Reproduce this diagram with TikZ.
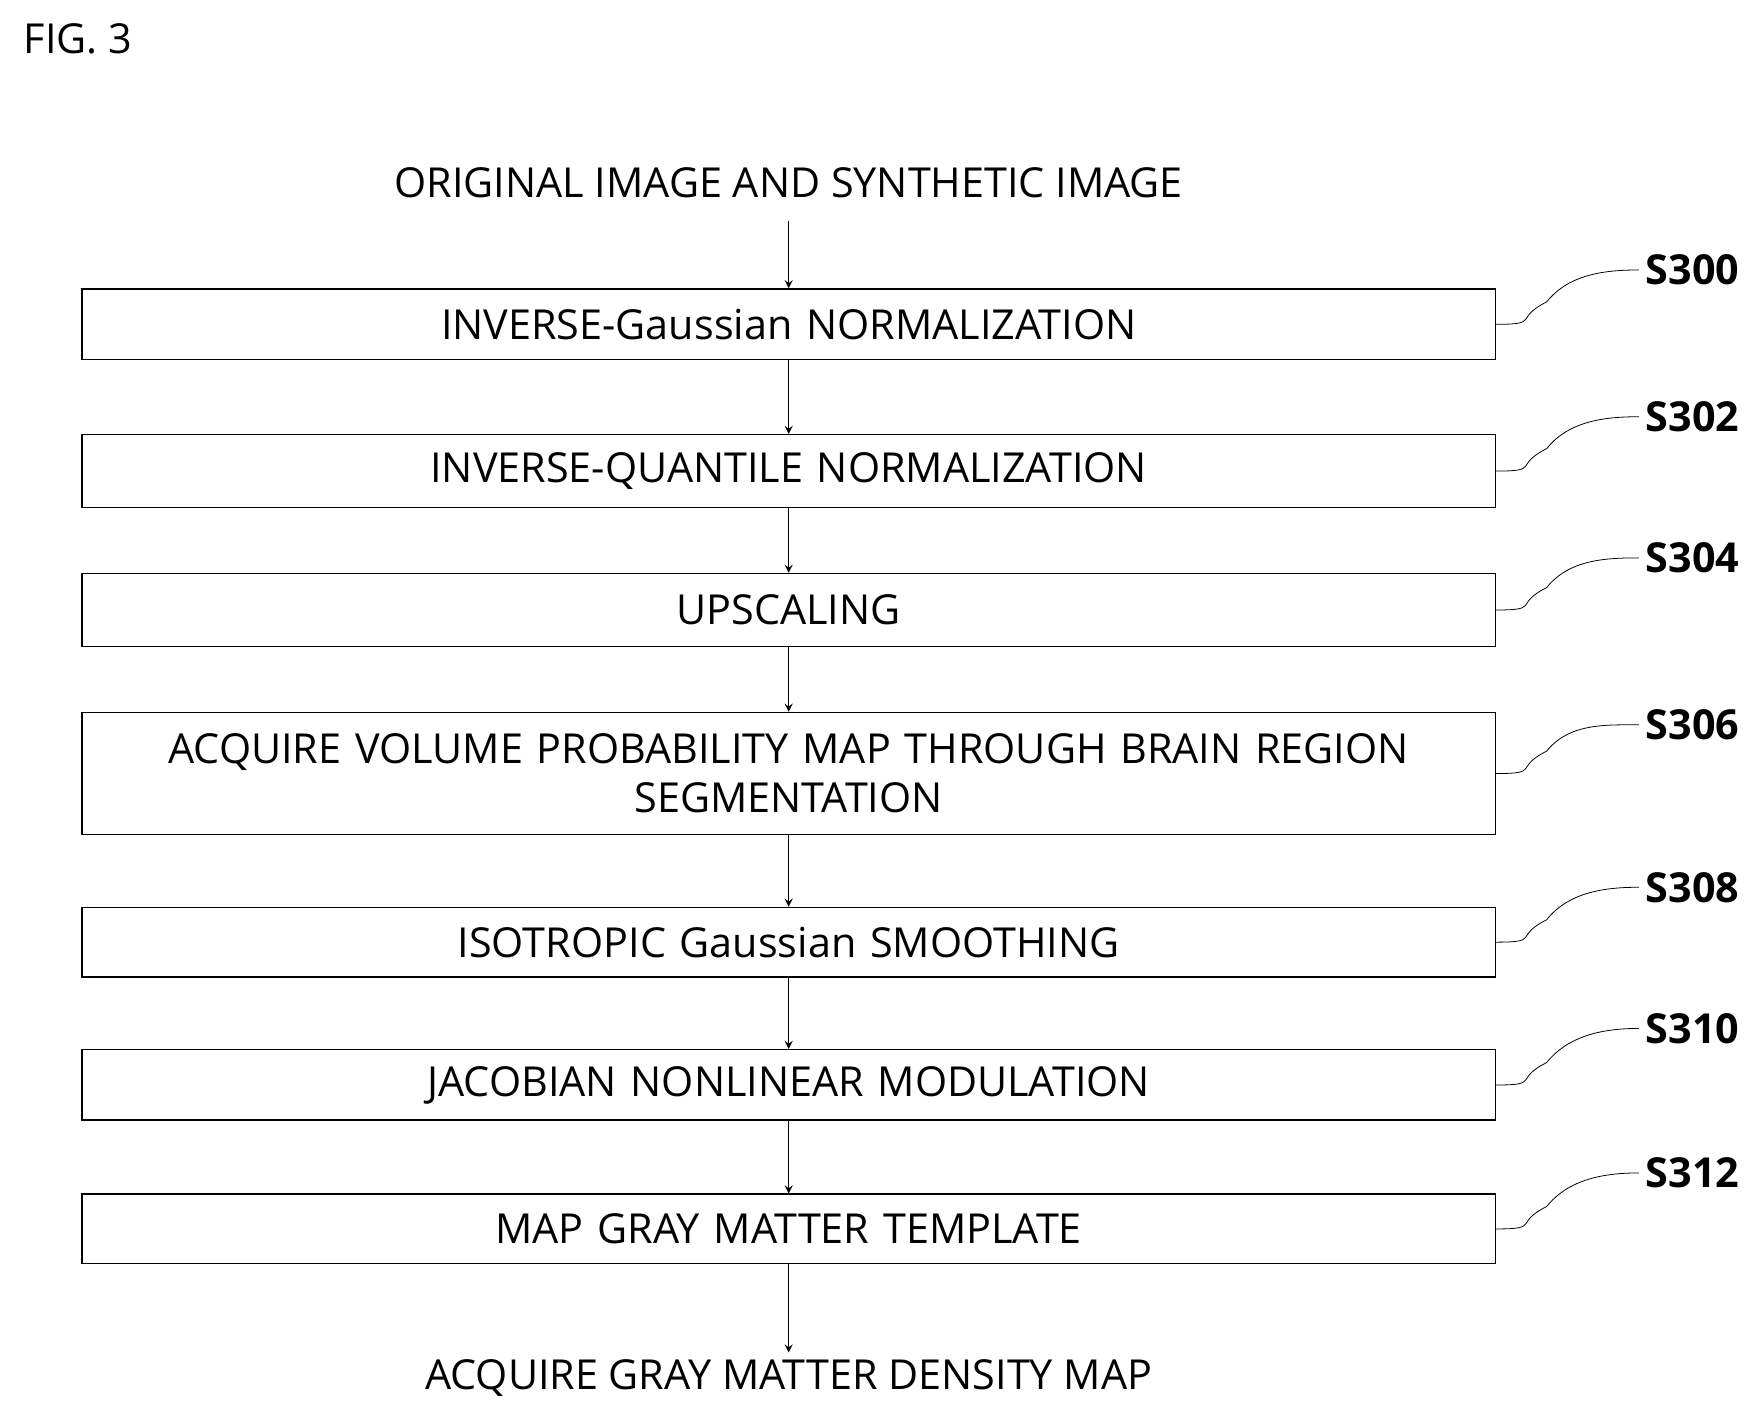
\documentclass[tikz,border=0pt]{standalone}
\usepackage{fontspec}
\setmainfont{Open Sans}
\begin{document}
\begin{tikzpicture}[x=0.02cm,y=-0.02cm,every node/.style={font=\fontsize{21}{25}\selectfont}]
\tikzset{stepbox/.style={draw,thick,rectangle,minimum width=25.24cm,inner sep=0pt,align=center,text width=24cm},
steplabel/.style={font=\fontsize{21}{25}\selectfont\bfseries,anchor=west}}
\useasboundingbox (0,0) rectangle (1563,1263);
\node[anchor=west] (fig) at (15,35) {FIG. 3};
\node (in) at (704,163) {ORIGINAL IMAGE AND SYNTHETIC IMAGE};
\node[stepbox,minimum height=1.26cm] (b0) at (704,289.5) {INVERSE-Gaussian NORMALIZATION};
\node[stepbox,minimum height=1.3cm] (b1) at (704,420.5) {INVERSE-QUANTILE NORMALIZATION};
\node[stepbox,minimum height=1.3cm] (b2) at (704,544.5) {UPSCALING};
\node[stepbox,minimum height=2.18cm] (b3) at (704,690.5) {ACQUIRE VOLUME PROBABILITY MAP THROUGH BRAIN REGION\\SEGMENTATION};
\node[stepbox,minimum height=1.24cm] (b4) at (704,841) {ISOTROPIC Gaussian SMOOTHING};
\node[stepbox,minimum height=1.26cm] (b5) at (704,968.5) {JACOBIAN NONLINEAR MODULATION};
\node[stepbox,minimum height=1.24cm] (b6) at (704,1097) {MAP GRAY MATTER TEMPLATE};
\node (out) at (704,1230) {ACQUIRE GRAY MATTER DENSITY MAP};
\node[steplabel] (s0) at (1463,241) {S300};
\node[steplabel] (s1) at (1463,372) {S302};
\node[steplabel] (s2) at (1463,498) {S304};
\node[steplabel] (s3) at (1463,647) {S306};
\node[steplabel] (s4) at (1463,792) {S308};
\node[steplabel] (s5) at (1463,918) {S310};
\node[steplabel] (s6) at (1463,1047) {S312};
\draw[->,>=stealth,thick] (704,197) -- (b0);
\draw[->,>=stealth,thick] (b0) -- (b1);
\draw[->,>=stealth,thick] (b1) -- (b2);
\draw[->,>=stealth,thick] (b2) -- (b3);
\draw[->,>=stealth,thick] (b3) -- (b4);
\draw[->,>=stealth,thick] (b4) -- (b5);
\draw[->,>=stealth,thick] (b5) -- (b6);
\draw[->,>=stealth,thick] (b6) -- (out);
\foreach \i in {0,...,6}
  \draw (b\i.east) .. controls +(40,0) and +(-30,15) .. +(45,-20) .. controls +(20,-25) and +(-30,0) .. (s\i.west);
\end{tikzpicture}
\end{document}
